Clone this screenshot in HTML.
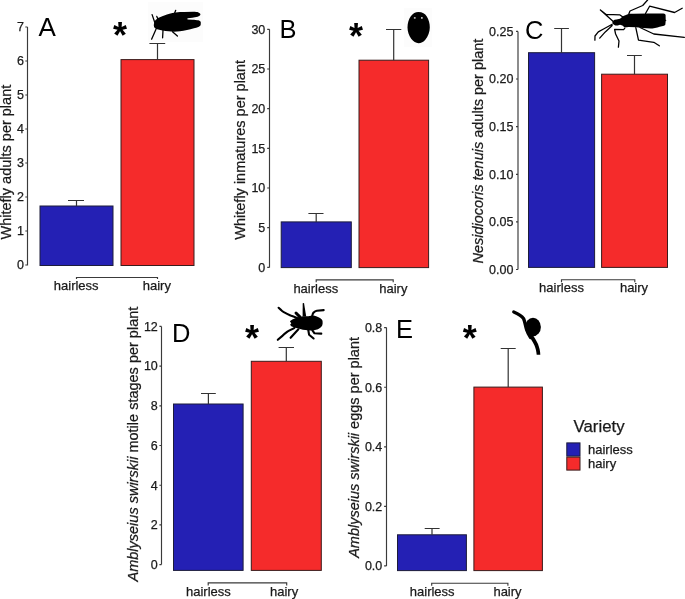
<!DOCTYPE html>
<html><head><meta charset="utf-8">
<style>
html,body{margin:0;padding:0;background:#fff;}
body{width:685px;height:599px;overflow:hidden;}
svg{display:block;will-change:transform;}
.tk,.yl,.xl,.lt,.vt{stroke:#1a1a1a;stroke-width:0.25px;}
svg{font-family:"Liberation Sans",sans-serif;}
.tk{font-size:12.5px;fill:#1a1a1a;text-anchor:end;}
.yl{font-size:14.5px;fill:#1a1a1a;}
.xl{font-size:13px;fill:#1a1a1a;text-anchor:middle;}
.lt{font-size:13px;fill:#1a1a1a;}
.pl{font-size:25.5px;fill:#000;}
.st{font-size:36px;font-weight:bold;fill:#000;}
.ax{stroke:#3a3a3a;stroke-width:1.15;fill:none;}
.eb{stroke:#333;stroke-width:1.2;fill:none;}
.bb{fill:#2420b4;stroke:#1c1c3a;stroke-width:1;}
.rb{fill:#f52b2b;stroke:#3a1c1c;stroke-width:1;}
.ic{fill:#000;}
.lg{stroke:#000;fill:none;stroke-linecap:round;stroke-linejoin:round;}
</style></head>
<body>
<svg width="685" height="599" viewBox="0 0 685 599">
<!-- ================= PANEL A ================= -->
<g id="A">
  <path class="ax" d="M27.5 27V265.5 M25.3 27H27.5 M25.3 61H27.5 M25.3 95H27.5 M25.3 129H27.5 M25.3 163H27.5 M25.3 197H27.5 M25.3 231H27.5 M25.3 265H27.5"/>
  <g class="tk">
    <text x="24" y="31.3">7</text><text x="24" y="65.3">6</text><text x="24" y="99.3">5</text><text x="24" y="133.3">4</text>
    <text x="24" y="167.3">3</text><text x="24" y="201.3">2</text><text x="24" y="235.3">1</text><text x="24" y="269.3">0</text>
  </g>
  <text class="yl" transform="translate(10.5,239.5) rotate(-90)">Whitefly adults per plant</text>
  <text class="pl" x="38.5" y="36" style="font-size:26px">A</text>
  <text class="st" x="113" y="48">*</text>
  <rect class="bb" x="40" y="206" width="73" height="59.5"/>
  <rect class="rb" x="121" y="59.6" width="73" height="205.9"/>
  <path class="eb" d="M76.5 206V200.5 M68 200.5H84 M157.5 59.6V43.5 M149.4 43.5H165.2"/>
  <path class="ax" d="M76.5 279V277.5H157.5V279"/>
  <text class="xl" x="76.2" y="290">hairless</text>
  <text class="xl" x="156.8" y="290">hairy</text>
  <!-- whitefly -->
  <rect x="148" y="2" width="55" height="40" fill="#fcfcfc"/>
  <path class="ic" d="M153.8 25.6 C153.8 23.5 154.5 20.5 156.8 19 C158 18 159 17.6 159.9 17.3 C161.5 16.5 163 15.9 164.3 15.5 C166 14.8 168 14.2 169.5 13.8 C171.5 13.2 173.5 12.7 175.7 12.4 C178.5 12.1 181.5 12 184.4 12 L193.2 11.8 C195.5 11.8 197.3 12 198.4 12.4 C199.8 12.9 200.6 13.6 200.4 14.6 C200.2 15.5 199.2 16.3 197.6 16.8 C196 17.3 194 17.5 192.3 17.7 L187.8 18.3 C187.2 18.8 187.2 19.3 187.8 19.5 L192.3 19.7 C194.5 19.8 197 20 198.4 20.3 C200 20.9 200.8 21.5 200.8 22.4 L200.7 24.7 C200.5 25.8 199.6 26.5 198.4 26.9 C197 27.6 195.5 27.9 194 28.2 C191.5 28.9 189.2 29.5 187 30 C184.5 30.6 182.2 31 180 31.3 C178 31.6 176 31.7 173.9 31.7 C172 31.7 170.3 31.5 168.6 31.3 C166.5 31 164.5 30.7 162.5 30.4 C161 30.1 159.5 29.8 158.1 29.5 C156.8 29.1 155.8 28.7 155 28.2 C154.2 27.5 153.8 26.6 153.8 25.6Z"/>
  <path class="lg" stroke-width="1.3" d="M152.1 14.6 L154.8 22.5 M156.8 16.4 L158.1 19.5 M175.7 10.3 L174.6 13.2 M156 29.2 L151.6 39.2 M163 30.2 L162.6 37.8 M172.5 31.8 L177.4 36.1"/>
</g>

<!-- ================= PANEL B ================= -->
<g id="B">
  <path class="ax" d="M269.5 29.3V267.6 M267.2 29.3H269.5 M267.2 69H269.5 M267.2 108.6H269.5 M267.2 148.3H269.5 M267.2 188H269.5 M267.2 227.6H269.5 M267.2 267.3H269.5"/>
  <g class="tk">
    <text x="265.3" y="33.6">30</text><text x="265.3" y="73.3">25</text><text x="265.3" y="112.9">20</text><text x="265.3" y="152.6">15</text>
    <text x="265.3" y="192.3">10</text><text x="265.3" y="231.9">5</text><text x="265.3" y="271.6">0</text>
  </g>
  <text class="yl" transform="translate(245.3,239.7) rotate(-90)">Whitefly inmatures per plant</text>
  <text class="pl" x="279.5" y="38">B</text>
  <text class="st" x="349" y="49">*</text>
  <rect class="bb" x="281.2" y="221.9" width="70.1" height="45.7"/>
  <rect class="rb" x="359" y="60.2" width="69.6" height="207.4"/>
  <path class="eb" d="M316.2 221.9V213.5 M308.4 213.5H323.5 M393.7 60.2V29.5 M386 29.5H401.3"/>
  <path class="ax" d="M316.2 282.3V279.8H393.2V282.3"/>
  <text class="xl" x="315.8" y="292.7">hairless</text>
  <text class="xl" x="393.3" y="292.7">hairy</text>
  <rect x="404" y="8" width="28" height="39" fill="#fcfcfc"/>
  <path class="ic" d="M418.4 12 C422.5 12 425 13.5 426.8 16.5 C428.8 19.5 429.8 23.5 429.8 27.5 C429.8 32 428 36.5 425.5 39.5 C423.5 42 421 43.2 418.5 43.2 C416 43.2 413.2 41.5 411.2 38.8 C409 35.5 407.5 31.5 407.5 27.5 C407.5 23 408.8 19 410.8 16.3 C412.8 13.5 415.5 12 418.4 12Z"/>
  <rect x="413.9" y="17" width="1.7" height="1.8" fill="#aaa"/><rect x="421" y="17" width="1.7" height="1.8" fill="#bbb"/>
</g>

<!-- ================= PANEL C ================= -->
<g id="C">
  <path class="ax" d="M518 31.4V269.5 M516 31.4H518 M516 79H518 M516 126.6H518 M516 174.3H518 M516 221.9H518 M516 269.5H518"/>
  <g class="tk">
    <text x="513.4" y="35.7">0.25</text><text x="513.4" y="83.3">0.20</text><text x="513.4" y="130.9">0.15</text>
    <text x="513.4" y="178.6">0.10</text><text x="513.4" y="226.2">0.05</text><text x="513.4" y="273.8">0.00</text>
  </g>
  <text class="yl" transform="translate(482.5,263.5) rotate(-90)"><tspan font-style="italic">Nesidiocoris tenuis</tspan> adults per plant</text>
  <text class="pl" x="525" y="39">C</text>
  <rect class="bb" x="528.5" y="52.7" width="66.1" height="214.7"/>
  <rect class="rb" x="601.6" y="74.2" width="65.9" height="193.2"/>
  <path class="eb" d="M561.5 52.7V28.5 M554.2 28.5H568.9 M634.5 74.2V55.5 M627 55.5H641.8"/>
  <path class="ax" d="M561.5 282.2V279.7H634.8V282.2"/>
  <text class="xl" x="561.5" y="292.2">hairless</text>
  <text class="xl" x="634" y="292.2">hairy</text>
  <!-- mirid bug -->
  <path class="ic" d="M612.4 22.2 C612.8 21 613.6 20.2 614.6 19.8 L616.5 19.4 L620 18.7 L621.5 17.6 L622.4 16.6 C623.5 15.8 624.5 15.4 625.3 15.2 C627 14.5 628.5 14 629.5 13.7 L633.5 13.8 L647.7 13.6 L661.9 13.6 C664 13.6 665.3 14 665.6 15 L665.7 19.8 L666.5 20.3 L665.7 21 L665.3 24.8 C664.8 25.6 663.5 26 661.9 26.2 C659 26.8 656 28.2 652.4 28.4 C649 28.6 646 28.2 643 27.9 L636.3 27.2 L628.7 27 L624.7 27.4 L622.4 25.6 L620 24.7 L617.7 25.5 L615.4 25.5 C614 25 613 24.2 612.4 23.2 Z"/>
  <path class="lg" stroke-width="1.3" d="M613 21.2 L600.4 10 L606.2 14.4 L620 14.9 L622.5 16.8 M612.2 24.2 L604 28.8 L598.3 31.9 L595 36 L594.9 40.2 M612.2 25.6 L605.3 31.9 L599.7 38.1 M628.8 14 L630 11 L642.7 5.5 L647.6 0 M645.5 13.5 L649.6 6.2 L674.6 12.5 L682.2 8.3 M624.7 28.3 L623.6 29.7 L614.6 29.4 L615.6 34 L619 41 L618.4 47.2 M635.8 27.7 L638.5 40.2 L653.8 42.3 L659.3 45.8 M640 27.5 L653.8 34 L684.3 37.4"/>
</g>

<!-- ================= PANEL D ================= -->
<g id="D">
  <path class="ax" d="M161.5 326.4V564.6 M159.4 326.4H161.5 M159.4 366.1H161.5 M159.4 405.8H161.5 M159.4 445.5H161.5 M159.4 485.2H161.5 M159.4 524.9H161.5 M159.4 564.6H161.5"/>
  <g class="tk">
    <text x="157.8" y="330.7">12</text><text x="157.8" y="370.4">10</text><text x="157.8" y="410.1">8</text><text x="157.8" y="449.8">6</text>
    <text x="157.8" y="489.5">4</text><text x="157.8" y="529.2">2</text><text x="157.8" y="568.9">0</text>
  </g>
  <text class="yl" transform="translate(137.7,581.5) rotate(-90)"><tspan font-style="italic">Amblyseius swirskii</tspan> motile stages per plant</text>
  <text class="pl" x="172" y="342">D</text>
  <text class="st" x="244.9" y="350.5">*</text>
  <rect class="bb" x="173.5" y="404" width="69.6" height="166.4"/>
  <rect class="rb" x="251.3" y="361.3" width="70" height="209.1"/>
  <path class="eb" d="M208.4 404V393.5 M201 393.5H215.8 M286.3 361.3V347.5 M278.6 347.5H294"/>
  <path class="ax" d="M208.2 585.4V582.9H286.7V585.4"/>
  <text class="xl" x="208.4" y="595.5">hairless</text>
  <text class="xl" x="284.1" y="595.5">hairy</text>
  <!-- mite -->
  <path class="ic" d="M290.1 320.9 L292.8 319.3 L296.7 317.8 L300.5 316.6 L304.4 316.3 L308.3 316.3 L312.2 315.5 C314 315.6 315.5 316 316.8 316.6 C318.5 317.2 319.8 317.8 320.7 318.6 C322 319.5 322.6 320.5 322.6 321.7 C322.8 323.2 322.6 324.5 322.2 325.5 C321.6 326.6 320.8 327.3 319.9 327.9 C318.6 328.8 317.3 329.4 316 329.8 C314.7 330.2 313.4 330.5 312.2 330.6 C310.5 330.6 309 330.4 307.5 330.2 L302.9 329.8 L298.2 328.6 L294.3 327.5 L291.3 326.3 L290.1 324.8 L291.3 323.2 L290.1 321.7 Z"/>
  <path class="lg" stroke-width="2.1" d="M297 318 C294.5 316.8 292.5 316 290.5 315.5 C288 314.3 286 313.3 284.3 312.4 C282.8 311.5 281.8 310.8 281.2 310.1 L278.6 307.8 M294.5 327.8 C292 329.2 289.5 330.4 287.4 331.7 C285.6 333 284 334.3 282.7 335.6 L277.8 339.8 M298.4 329.3 L290.6 337.8 M308.3 330 L309.1 334.8 L313.6 338.5 M312.4 330.4 L314.5 333.3 L321.3 333.6 M312.2 316 C312.6 314.2 313 313 313.7 312.4 C314.6 311.5 315.6 311 316.8 310.8 L323.7 310.1"/>
  <path class="lg" stroke-width="3" d="M296 313 L299.6 316.6"/>
  <path class="ic" d="M302.6 316.6 L302.7 303.2 L304 303.1 L306.2 316.6Z"/>
</g>

<!-- ================= PANEL E ================= -->
<g id="E">
  <path class="ax" d="M386.5 327.6V565.9 M384.1 327.6H386.5 M384.1 387.2H386.5 M384.1 446.8H386.5 M384.1 506.3H386.5 M384.1 565.9H386.5"/>
  <g class="tk">
    <text x="382.3" y="331.9">0.8</text><text x="382.3" y="391.5">0.6</text><text x="382.3" y="451.1">0.4</text>
    <text x="382.3" y="510.6">0.2</text><text x="382.3" y="570.2">0.0</text>
  </g>
  <text class="yl" transform="translate(359,557.8) rotate(-90)"><tspan font-style="italic">Amblyseius swirskii</tspan> eggs per plant</text>
  <text class="pl" x="396" y="337.5">E</text>
  <text class="st" x="462.8" y="351">*</text>
  <rect class="bb" x="397.5" y="534.8" width="68.9" height="35.8"/>
  <rect class="rb" x="473.9" y="387.1" width="68.5" height="183.5"/>
  <path class="eb" d="M432 534.8V528.5 M424.7 528.5H439.6 M508.2 387.1V348.5 M500.7 348.5H515.7"/>
  <path class="ax" d="M431.7 585.7V583.2H507.9V585.7"/>
  <text class="xl" x="432.2" y="595.6">hairless</text>
  <text class="xl" x="507.5" y="595.6">hairy</text>
  <!-- egg on stalk -->
  <ellipse class="ic" cx="533" cy="327" rx="7.9" ry="9.2"/>
  <path class="lg" stroke-width="3.4" d="M513.8 312 C517.5 313.5 521.5 315.5 523.6 318.6 C525 322 525.5 326 526.6 329.5 C527.5 332.5 529 335 530.5 337.5"/>
  <path fill="#000" d="M528.5 334.5 L532 333.5 C534 337 536.5 340.5 538 344 C539.3 347.5 540.3 351 540.3 354.8 L536.7 354.8 C536.5 351.5 535.7 348.5 534.5 345.5 C532.8 342 530.5 338.5 528.5 334.5Z"/>
</g>

<!-- ================= LEGEND ================= -->
<g id="L">
  <text class="vt" x="573.6" y="432.1" style="font-size:16.8px;fill:#1a1a1a">Variety</text>
  <rect class="bb" x="566.8" y="442.9" width="13.2" height="13.2"/>
  <rect class="rb" x="566.8" y="457.1" width="13.2" height="13"/>
  <text class="lt" x="588" y="453.8">hairless</text>
  <text class="lt" x="588" y="467.6">hairy</text>
</g>
</svg>
</body></html>
